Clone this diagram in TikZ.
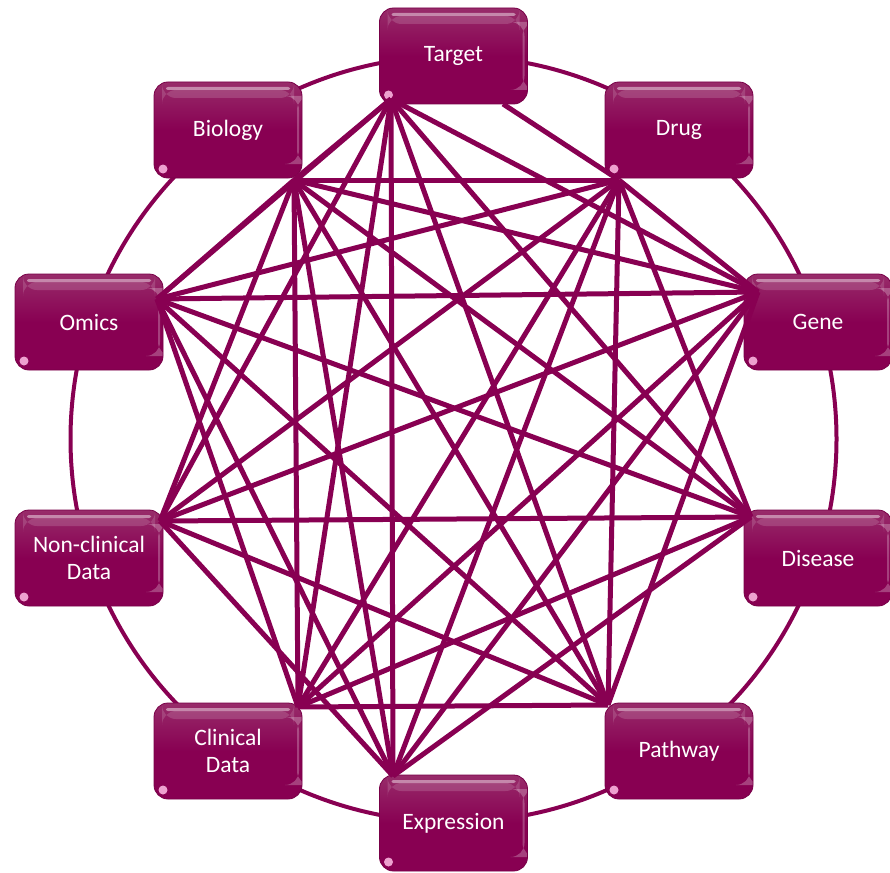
\documentclass[tikz,border=0pt]{standalone}
\usepackage{fontspec}
\setmainfont{Carlito}
\definecolor{plum}{RGB}{136,0,82}
\definecolor{plumTop}{RGB}{152,44,106}
\definecolor{plumEdge}{RGB}{120,0,72}
\definecolor{glint}{RGB}{255,190,230}
\begin{document}
\begin{tikzpicture}[x=1pt,y=-1pt,
  ring/.style={draw=plum, line width=4pt},
  link/.style={draw=plum, line width=5pt},
  box/.style={rectangle, rounded corners=14pt, minimum width=148pt,
    minimum height=96pt, inner sep=0pt, draw=plumEdge, line width=0.8pt,
    top color=plumTop, bottom color=plum, middle color=plum,
    text=white, align=center, font=\fontsize{23.5}{27}\selectfont,
    path picture={
      \fill[white, opacity=0.45, rounded corners=2pt]
        ([xshift=12pt,yshift=-5pt]path picture bounding box.north west) rectangle
        ([xshift=-12pt,yshift=-8pt]path picture bounding box.north east);
      \fill[white, opacity=0.15]
        ([xshift=8pt,yshift=-8pt]path picture bounding box.north west) rectangle
        ([xshift=-8pt,yshift=-16pt]path picture bounding box.north east);
      \fill[white, opacity=0.25]
        ([xshift=-5pt,yshift=-14pt]path picture bounding box.north east) rectangle
        ([xshift=-3pt,yshift=14pt]path picture bounding box.south east);
      \fill[glint, opacity=0.85]
        ([xshift=9pt,yshift=9pt]path picture bounding box.south west) circle (4.5pt);
    }}]
\useasboundingbox (0,0) rectangle (890,872);

% ring behind the boxes
\draw[ring] (453.5,439) circle (383pt);

% boxes
\node[box] (T)  at (453.5, 56)  {Target};
\node[box] (Dr) at (679, 130)   {Drug};
\node[box] (G)  at (818, 322)   {Gene};
\node[box] (D)  at (818, 558)   {Disease};
\node[box] (P)  at (679, 751)   {Pathway};
\node[box] (E)  at (453.5, 823) {Expression};
\node[box] (C)  at (228, 751)   {Clinical\\Data};
\node[box] (N)  at (89, 558)    {Non-clinical\\Data};
\node[box] (O)  at (89, 322)    {Omics};
\node[box] (Bi) at (228, 130)   {Biology};

% connection points at the box corners
\coordinate (aT)  at (391, 99);
\coordinate (bT)  at (503, 104);
\coordinate (aDr) at (619, 180);
\coordinate (aG)  at (758, 292);
\coordinate (aD)  at (751, 517);
\coordinate (aP)  at (608, 705);
\coordinate (aE)  at (393, 776);
\coordinate (aC)  at (298, 707);
\coordinate (aN)  at (160, 521);
\coordinate (aO)  at (157, 299);
\coordinate (aBi) at (294, 180);

% network links
\foreach \a/\b in {T/Bi, T/O, T/N, T/C, T/E, T/P, T/D, T/G,
    Bi/Dr, Bi/G, Bi/D, Bi/P, Bi/E, Bi/C, Bi/N, Bi/O,
    Dr/G, Dr/D, Dr/P, Dr/E, Dr/C, Dr/N, Dr/O,
    G/P, G/E, G/C, G/N, G/O,
    D/E, D/C, D/N, D/O,
    P/C, P/N, P/O,
    E/N, E/O,
    C/O}
  \draw[link] (a\a) -- (a\b);
\draw[link] (bT) -- (aDr);
\end{tikzpicture}
\end{document}
